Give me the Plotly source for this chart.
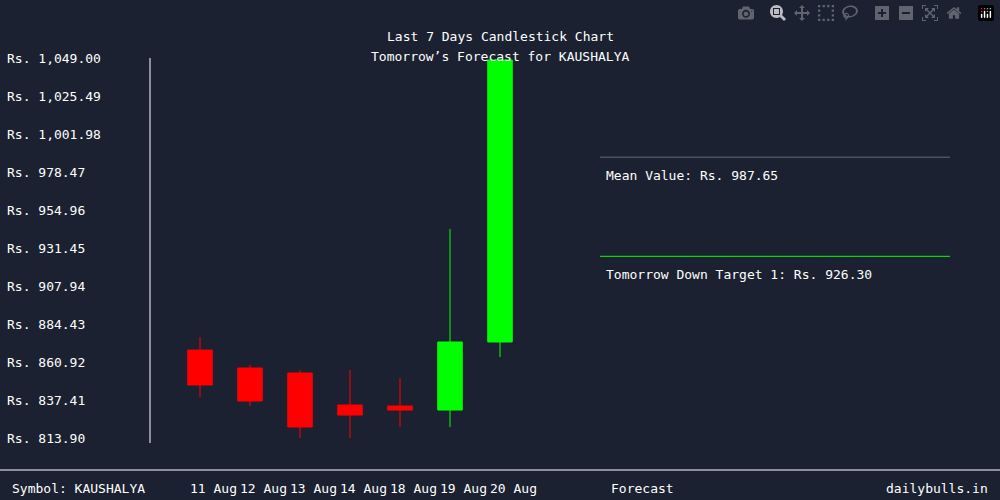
import plotly.graph_objects as go

dates = ["11 Aug", "12 Aug", "13 Aug", "14 Aug", "18 Aug", "19 Aug", "20 Aug"]
opens = [868.3, 857.2, 854.1, 834.3, 833.7, 831.2, 873.3]
highs = [876.4, 859.1, 856.0, 856.0, 851.0, 943.2, 1049.0]
lows = [839.3, 833.7, 813.3, 812.0, 820.7, 820.7, 864.0]
closes = [846.7, 836.8, 820.7, 828.1, 831.2, 873.3, 1047.8]
ytick_vals = [813.90, 837.41, 860.92, 884.43, 907.94, 931.45, 954.96, 978.47, 1001.98, 1025.49, 1049.00]
mean_value = 987.65
down_target = 926.30
symbol = "KAUSHALYA"

BG = "#1b2130"
FONT = "DejaVu Sans Mono"
xs = list(range(len(dates)))

fig = go.Figure(go.Candlestick(
    x=xs, open=opens, high=highs, low=lows, close=closes,
    increasing=dict(line=dict(color="#00ff00", width=1), fillcolor="#00ff00"),
    decreasing=dict(line=dict(color="#ff0000", width=1), fillcolor="#ff0000"),
    whiskerwidth=0, showlegend=False, hoverinfo="skip"))

f = dict(color="white", size=13, family=FONT)
ann = []
for v in ytick_vals:
    ann.append(dict(xref="paper", yref="y", x=-145/850, y=v, xanchor="left", yanchor="middle",
                    text=f"Rs. {v:,.2f}", showarrow=False, font=f))
for x, d in zip(xs, dates):
    ann.append(dict(xref="x", yref="paper", x=x, y=-50/380, xshift=13, yanchor="middle",
                    text=d, showarrow=False, font=f))
ann += [
    dict(xref="paper", yref="paper", x=-140/850, y=-50/380, xanchor="left", yanchor="middle",
         text=f"Symbol: {symbol}", showarrow=False, font=f),
    dict(xref="x", yref="paper", x=8.85, y=-50/380, yanchor="middle",
         text="Forecast", showarrow=False, font=f),
    dict(xref="paper", yref="paper", x=840/850, y=-50/380, xanchor="right", yanchor="middle",
         text="dailybulls.in", showarrow=False, font=f),
    dict(xref="x", yref="y", x=8.08, y=mean_value, yshift=-18, xanchor="left", yanchor="middle",
         text=f"Mean Value: Rs. {mean_value:.2f}", showarrow=False, font=f),
    dict(xref="x", yref="y", x=8.08, y=down_target, yshift=-18, xanchor="left", yanchor="middle",
         text=f"Tomorrow Down Target 1: Rs. {down_target:.2f}", showarrow=False, font=f),
    dict(xref="paper", yref="paper", x=0.5 - 150/850/2, y=1.0, yshift=31, xanchor="center",
         text="Last 7 Days Candlestick Chart", showarrow=False, font=f),
    dict(xref="paper", yref="paper", x=0.5 - 150/850/2, y=1.0, yshift=11, xanchor="center",
         text=f"Tomorrow’s Forecast for {symbol}", showarrow=False, font=f),
]

shapes = [
    dict(type="line", xref="x", yref="y", x0=8, x1=15, y0=mean_value, y1=mean_value, line=dict(color="#666a75", width=1)),
    dict(type="line", xref="x", yref="y", x0=8, x1=15, y0=down_target, y1=down_target, line=dict(color="#00ff00", width=1)),
    dict(type="line", xref="paper", yref="paper", x0=-150/850, x1=1, y0=-32/380, y1=-32/380, line=dict(color="white", width=1)),
    dict(type="line", xref="paper", yref="paper", x0=0, x1=0, y0=-5/380, y1=1, line=dict(color="white", width=1)),
]

fig.update_layout(
    width=1000, height=500, paper_bgcolor=BG, plot_bgcolor=BG,
    margin=dict(l=150, r=0, t=58, b=62),
    xaxis=dict(range=[-1, 16], showgrid=False, zeroline=False, showticklabels=False, rangeslider=dict(visible=False)),
    yaxis=dict(range=[813.9, 1049.0], showgrid=False, zeroline=False, showticklabels=False),
    annotations=ann, shapes=shapes, font=dict(family=FONT, color="white"))

fig.write_html("out.html", post_script="document.body.style.margin='0';document.body.style.overflow='hidden';")
